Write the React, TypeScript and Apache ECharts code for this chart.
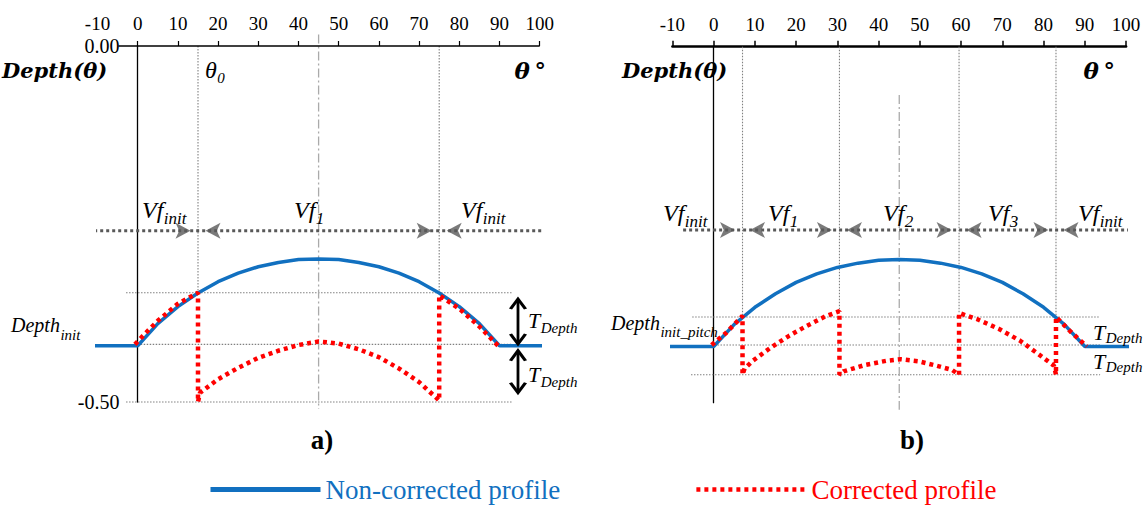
import React, { useEffect, useRef } from 'react';
import * as echarts from 'echarts';

// ---------------- data (theta in degrees, depth in axis units) ----------------
const thetaProfile = [0, 5, 10, 15, 20, 25, 30, 35, 40, 45, 50, 55, 60, 65, 70, 75, 80, 85, 90];
const depthProfile = [-0.421, -0.39, -0.366, -0.347, -0.331, -0.319, -0.31, -0.304, -0.3, -0.299, -0.3, -0.304, -0.31, -0.319, -0.331, -0.347, -0.366, -0.39, -0.421];
const depthInit = -0.421;
const flatA = [-12.6, 107];
const flatB = [-11.4, 104.5];

const correctedThetaA = [-0.7, 2, 5, 10, 15, 15, 15.5, 20, 25, 30, 35, 40, 45, 50, 55, 60, 65, 70, 75, 75, 80, 85, 90];
const correctedDepthA = [-0.419, -0.403, -0.386, -0.362, -0.3465, -0.5, -0.487, -0.468, -0.452, -0.438, -0.428, -0.42, -0.415, -0.418, -0.426, -0.437, -0.453, -0.472, -0.498, -0.35, -0.369, -0.394, -0.423];

const correctedThetaB = [-0.5, 3, 7, 7, 7.5, 9.5, 14, 18.3, 22.6, 27, 30.5, 30.5, 31.5, 36.7, 42, 45.4, 49.8, 54, 57.8, 59.5, 59.5, 63.8, 69.2, 74.3, 78.7, 82.5, 83, 83, 86.5, 90.5];
const correctedDepthB = [-0.419, -0.402, -0.378, -0.4607, -0.452, -0.441, -0.422, -0.406, -0.392, -0.379, -0.3715, -0.4607, -0.456, -0.447, -0.441, -0.439, -0.442, -0.448, -0.454, -0.4607, -0.374, -0.3825, -0.3965, -0.413, -0.4316, -0.448, -0.4607, -0.3796, -0.4, -0.421];

const boundariesA = [15, 75];
const boundaryTopA = [-0.3465, -0.3465];
const boundariesB = [7, 30.5, 59.5, 83];
const boundaryTopB = [-0.3796, -0.3715, -0.374, -0.3796];

const guideDepthA = [-0.3465, -0.419, -0.5];
const guideFromA = [-2.9, 0, -2.9];
const guideToA = [93.3, 93, 93.3];
const guideDepthB = [-0.3796, -0.419, -0.4607];
const guideFromB = [-5.2, 0.2, -5.5];
const guideToB = [93.7, 93.7, 93.7];

const arrowRowDepthA = -0.2594;
const arrowRowA = [-15.3, 105.3];
const arrowRowDepthB = -0.2574;
const arrowRowB = [-7.4, 102.4];

const centerTheta = 45;
const centerSpanA = [0.016, -0.51];
const centerSpanB = [-0.068, -0.51];

const tArrowTheta = 94.6;
const tArrowUpper = [-0.3567, -0.4171];
const tArrowLower = [-0.4293, -0.4855];

const thetaTicksA = [0, 10, 20, 30, 40, 50, 60, 70, 80, 90, 100];
const thetaAxisLineA = [-4.8, 100];
const yLabelValues = [0, -0.5];

// ---------------- styling helpers ----------------
const SERIF = 'Liberation Serif';
const MATH = 'DejaVu Serif';
const BLUE = '#1170C0';
const RED = '#FF0000';
const GUIDE = '#808080';

let measureCtx: CanvasRenderingContext2D | null = null;
function tw(text: string, font: string): number {
  if (!measureCtx) measureCtx = document.createElement('canvas').getContext('2d');
  if (!measureCtx) return text.length * 10;
  measureCtx.font = font;
  return measureCtx.measureText(text).width;
}

function txt(x: number, y: number, text: string, font: string, align = 'left', fill = '#000') {
  return {
    type: 'text',
    x,
    y,
    silent: true,
    z: 100,
    style: { text, font, fill, align, verticalAlign: 'middle', textAlign: align, textVerticalAlign: 'middle' },
  };
}

function subTxt(x: number, y: number, main: string, sub: string, mainFont: string, subFont: string, dy: number) {
  const w = tw(main, mainFont);
  return [txt(x, y, main, mainFont), txt(x + w + 0.5, y + dy, sub, subFont)];
}

function seg(gi: number, data: number[][], lineStyle: any, z = 2, name?: string) {
  return {
    type: 'line',
    name,
    xAxisIndex: gi,
    yAxisIndex: gi,
    data,
    symbol: 'none',
    lineStyle,
    itemStyle: lineStyle.color ? { color: lineStyle.color } : undefined,
    z,
    silent: true,
    clip: false,
    animation: false,
  };
}

function zip(xs: number[], ys: number[]) {
  return xs.map((x, i) => [x, ys[i]]);
}

function arrowHeads(gi: number, bounds: number[], depth: number) {
  const data: any[] = [];
  bounds.forEach((b) => {
    data.push({ value: [b, depth], symbolRotate: -90, symbolOffset: [-7.5, 0] });
    data.push({ value: [b, depth], symbolRotate: 90, symbolOffset: [7.5, 0] });
  });
  return {
    type: 'scatter',
    xAxisIndex: gi,
    yAxisIndex: gi,
    data,
    symbol: 'arrow',
    symbolSize: [12, 15],
    itemStyle: { color: '#595959' },
    silent: true,
    z: 6,
    clip: false,
  };
}

const CHEVRON = 'path://M0,10 L7,0 L14,10';
function doubleArrow(gi: number, theta: number, span: number[]) {
  return {
    type: 'line',
    xAxisIndex: gi,
    yAxisIndex: gi,
    data: [
      { value: [theta, span[0]], symbolRotate: 0, symbolOffset: [0, 4] },
      { value: [theta, span[1]], symbolRotate: 180, symbolOffset: [0, -4] },
    ],
    symbol: CHEVRON,
    symbolSize: [15, 10],
    showSymbol: true,
    itemStyle: { color: 'rgba(0,0,0,0)', borderColor: '#000', borderWidth: 2.8 },
    lineStyle: { color: '#000', width: 2.8 },
    z: 7,
    silent: true,
    clip: false,
  };
}

function profileData(flat: number[]) {
  return [[flat[0], depthInit], ...zip(thetaProfile, depthProfile), [flat[1], depthInit]];
}

function panelSeries(gi: number, p: any) {
  const s: any[] = [];
  const guideStyle = { color: GUIDE, width: 1.1, type: [1.5, 1.5] };
  p.guideDepth.forEach((d: number, i: number) => {
    s.push(seg(gi, [[p.guideFrom[i], d], [p.guideTo[i], d]], guideStyle, 1));
  });
  p.bounds.forEach((b: number, i: number) => {
    s.push(seg(gi, [[b, 0], [b, p.boundTop[i]]], guideStyle, 1));
  });
  s.push(seg(gi, [[centerTheta, p.centerSpan[0]], [centerTheta, p.centerSpan[1]]], { color: '#AAAAAA', width: 1.3, type: [9, 3, 2, 3] }, 1));
  s.push(seg(gi, [[p.arrowRow[0], p.arrowDepth], [p.arrowRow[1], p.arrowDepth]], { color: '#595959', width: 3, type: [3, 3] }, 5));
  s.push(arrowHeads(gi, p.bounds, p.arrowDepth));
  s.push(seg(gi, profileData(p.flat), { color: BLUE, width: 3.5 }, 3, 'Non-corrected profile'));
  s.push(seg(gi, zip(p.corrTheta, p.corrDepth), { color: RED, width: 4.5, type: [4, 4] }, 4, 'Corrected profile'));
  return s;
}

function xAxisCfg(gi: number, width: number, showLine: boolean, tickValues?: number[]) {
  return {
    gridIndex: gi,
    type: 'value',
    min: -10,
    max: 100,
    interval: 10,
    position: 'top',
    axisLine: { show: showLine, onZero: false, lineStyle: { color: '#000', width } },
    axisTick: tickValues
      ? { show: true, length: 5, customValues: tickValues, lineStyle: { color: '#000', width: 1.2 } }
      : { show: true, length: 6, lineStyle: { color: '#000', width: 1.5 } },
    axisLabel: { margin: 13, fontFamily: SERIF, fontSize: 19, color: '#000' },
    splitLine: { show: false },
  };
}

function yAxisCfg(gi: number, showLabels: boolean) {
  return {
    gridIndex: gi,
    type: 'value',
    min: -0.5,
    max: 0,
    interval: 0.5,
    axisLine: { show: true, onZero: true, lineStyle: { color: '#000', width: 1.3 } },
    axisTick: { show: false },
    splitLine: { show: false },
    axisLabel: {
      show: showLabels,
      margin: -22,
      fontFamily: SERIF,
      fontSize: 20,
      color: '#000',
      formatter: (v: number) => (yLabelValues.indexOf(v) >= 0 ? v.toFixed(2) : ''),
    },
  };
}

function buildOption() {
  const vfMain = `italic 24px ${SERIF}`;
  const vfSub = `italic 17px ${SERIF}`;
  const dMain = `italic 20px ${SERIF}`;
  const dSub = `italic 15px ${SERIF}`;
  const tMain = `italic 22px ${SERIF}`;
  const tSub = `italic 15px ${SERIF}`;
  const head = `bold italic 21px ${MATH}`;
  const thetaFont = `bold italic 23px ${MATH}`;

  const graphics: any[] = [
    // panel a
    txt(2, 70, 'Depth(θ)', head),
    ...subTxt(205, 70, 'θ', '0', `italic 24px ${SERIF}`, `italic 15px ${SERIF}`, 8),
    txt(546, 70, 'θ\u2009°', thetaFont, 'right'),
    ...subTxt(142, 210, 'Vf', 'init', vfMain, vfSub, 8),
    ...subTxt(294, 210, 'Vf', '1', vfMain, vfSub, 8),
    ...subTxt(461, 210, 'Vf', 'init', vfMain, vfSub, 8),
    ...subTxt(11, 325, 'Depth', 'init', dMain, dSub, 10),
    ...subTxt(528, 320, 'T', 'Depth', tMain, tSub, 8),
    ...subTxt(528, 374, 'T', 'Depth', tMain, tSub, 8),
    txt(322, 440, 'a)', `bold 27px ${SERIF}`, 'center'),
    // panel b
    txt(622, 70, 'Depth(θ)', head),
    txt(1115, 70, 'θ\u2009°', thetaFont, 'right'),
    ...subTxt(663, 213, 'Vf', 'init', vfMain, vfSub, 8),
    ...subTxt(768, 213, 'Vf', '1', vfMain, vfSub, 8),
    ...subTxt(883, 213, 'Vf', '2', vfMain, vfSub, 8),
    ...subTxt(988, 213, 'Vf', '3', vfMain, vfSub, 8),
    ...subTxt(1078, 213, 'Vf', 'init', vfMain, vfSub, 8),
    ...subTxt(611, 323, 'Depth', 'init_pitch', dMain, dSub, 9),
    ...subTxt(1093, 332, 'T', 'Depth', tMain, tSub, 6),
    ...subTxt(1093, 361, 'T', 'Depth', tMain, tSub, 6),
    txt(912, 440, 'b)', `bold 27px ${SERIF}`, 'center'),
  ];

  const series = [
    seg(0, [[thetaAxisLineA[0], 0], [thetaAxisLineA[1], 0]], { color: '#000', width: 1.5 }, 2),
    ...panelSeries(0, {
      guideDepth: guideDepthA, guideFrom: guideFromA, guideTo: guideToA,
      bounds: boundariesA, boundTop: boundaryTopA, centerSpan: centerSpanA,
      arrowRow: arrowRowA, arrowDepth: arrowRowDepthA, flat: flatA,
      corrTheta: correctedThetaA, corrDepth: correctedDepthA,
    }),
    doubleArrow(0, tArrowTheta, tArrowUpper),
    doubleArrow(0, tArrowTheta, tArrowLower),
    ...panelSeries(1, {
      guideDepth: guideDepthB, guideFrom: guideFromB, guideTo: guideToB,
      bounds: boundariesB, boundTop: boundaryTopB, centerSpan: centerSpanB,
      arrowRow: arrowRowB, arrowDepth: arrowRowDepthB, flat: flatB,
      corrTheta: correctedThetaB, corrDepth: correctedDepthB,
    }),
  ];

  return {
    animation: false,
    backgroundColor: '#fff',
    grid: [
      { left: 97.5, top: 46, width: 442.2, height: 356 },
      { left: 672.4, top: 46.7, width: 453.7, height: 356 },
    ],
    xAxis: [xAxisCfg(0, 1.5, false, thetaTicksA), xAxisCfg(1, 2.5, true)],
    yAxis: [yAxisCfg(0, true), yAxisCfg(1, false)],
    legend: {
      data: [
        { name: 'Non-corrected profile', textStyle: { color: BLUE }, lineStyle: { width: 5 } },
        { name: 'Corrected profile', textStyle: { color: RED }, lineStyle: { width: 4.5 } },
      ],
      left: 208,
      top: 476,
      itemWidth: 110,
      itemHeight: 14,
      itemGap: 134,
      padding: 0,
      selectedMode: false,
      itemStyle: { opacity: 0 },
      textStyle: { fontFamily: SERIF, fontSize: 27 },
    },
    series,
    graphic: graphics,
  };
}

export default function App() {
  const ref = useRef<HTMLDivElement>(null);
  useEffect(() => {
    if (!ref.current) return;
    const chart = echarts.init(ref.current, null, { renderer: 'svg' });
    chart.setOption(buildOption() as any);
    return () => chart.dispose();
  }, []);
  return (
    <div
      ref={ref}
      style={{ position: 'fixed', left: 0, top: 0, width: 1145, height: 505, background: '#fff' }}
    />
  );
}
